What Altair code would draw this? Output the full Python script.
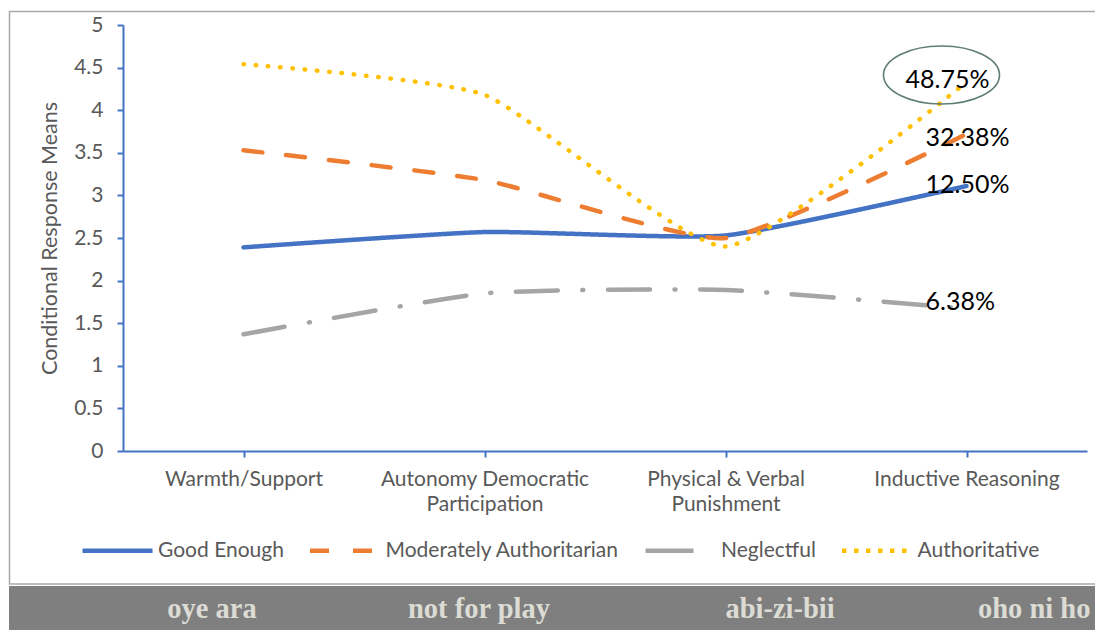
import altair as alt
import pandas as pd

# ---- data -------------------------------------------------------------
categories = [
    "Warmth/Support",
    "Autonomy Democratic Participation",
    "Physical & Verbal Punishment",
    "Inductive Reasoning",
]
series_names = ["Good Enough", "Moderately Authoritarian", "Neglectful", "Authoritative"]

good_enough = [2.39, 2.57, 2.53, 3.11]
moderately_authoritarian = [3.53, 3.18, 2.50, 3.72]
neglectful = [1.37, 1.85, 1.89, 1.67]
authoritative = [4.54, 4.18, 2.40, 4.33]

share_labels = ["12.50%", "32.38%", "6.38%", "48.75%"]
band_words = ["oye ara", "not for play", "abi-zi-bii", "oho ni ho"]

# ---- styling ----------------------------------------------------------
series_colors = ["#4472c4", "#ed7d31", "#a5a5a5", "#ffc000"]
# dash patterns of the scale (also used by the legend swatches, butt caps there)
legend_dashes = [[1, 0], [19, 24], [48, 30], [4.5, 7.5]]
# patterns drawn directly on the round-capped lines
dash_dot = [42, 24.5, 1, 24.5]
round_dot = [0.5, 11.8]
AXIS_BLUE = "#4472c4"
TEXT_GREY = "#595959"
FONT = "Lato"

W, H = 964, 426

series_values = [good_enough, moderately_authoritarian, neglectful, authoritative]
rows = []
for name, vals in zip(series_names, series_values):
    for cat, v in zip(categories, vals):
        rows.append({"series": name, "category": cat, "value": v})
df = pd.DataFrame(rows)

last = pd.DataFrame({
    "series": series_names,
    "category": [categories[-1]] * len(series_names),
    "value": [vals[-1] for vals in series_values],
    "label": share_labels,
})

x_label_expr = (
    "datum.label == 'Autonomy Democratic Participation' ? ['Autonomy Democratic', 'Participation'] : "
    "datum.label == 'Physical & Verbal Punishment' ? ['Physical & Verbal', 'Punishment'] : datum.label"
)

x_enc = alt.X(
    "category:N",
    sort=categories,
    scale=alt.Scale(type="point", padding=0.5),
    axis=alt.Axis(
        title=None, labelAngle=0, labelExpr=x_label_expr, labelLineHeight=25,
        labelPadding=11, labelOverlap=False, labelLimit=0,
    ),
)
y_enc = alt.Y(
    "value:Q",
    scale=alt.Scale(domain=[0, 5], nice=False, zero=True),
    axis=alt.Axis(
        title="Conditional Response Means",
        values=[0, 0.5, 1, 1.5, 2, 2.5, 3, 3.5, 4, 4.5, 5],
        format="~g",
        labelPadding=14, titlePadding=12, grid=False,
    ),
)

legend = alt.Legend(
    title=None, orient="none", legendX=-43, legendY=488,
    direction="horizontal", columns=4, symbolType="stroke",
    symbolSize=4900, symbolStrokeWidth=4.5, labelFont=FONT, labelFontSize=21,
    labelColor=TEXT_GREY, labelOffset=3, columnPadding=16.5, labelLimit=0,
)

color_enc = alt.Color(
    "series:N", scale=alt.Scale(domain=series_names, range=series_colors), legend=legend
)
dash_enc = alt.StrokeDash(
    "series:N", scale=alt.Scale(domain=series_names, range=legend_dashes), legend=legend
)

line_style = dict(strokeWidth=4.5, strokeCap="round", strokeJoin="round",
                  interpolate="cardinal", tension=0.5)

solid_and_dashed = alt.Chart(df).transform_filter(
    (alt.datum.series == "Good Enough") | (alt.datum.series == "Moderately Authoritarian")
).mark_line(**line_style).encode(x=x_enc, y=y_enc, color=color_enc, strokeDash=dash_enc)

dash_dotted = alt.Chart(df).transform_filter(
    alt.datum.series == "Neglectful"
).mark_line(strokeDash=dash_dot, **line_style).encode(x=x_enc, y=y_enc, color=color_enc)

dotted = alt.Chart(df).transform_filter(
    alt.datum.series == "Authoritative"
).mark_line(strokeDash=round_dot, **line_style).encode(x=x_enc, y=y_enc, color=color_enc)

# share labels placed beside the line ends
label_offsets = {
    "Good Enough": (-41, -1),
    "Moderately Authoritarian": (-41, 4),
    "Neglectful": (-41, -7),
    "Authoritative": (-61, -2),
}
label_layers = []
for name in series_names:
    dx, dy = label_offsets[name]
    label_layers.append(
        alt.Chart(last).transform_filter(alt.datum.series == name).mark_text(
            align="left", baseline="middle", dx=dx, dy=dy, font=FONT, fontSize=25, color="#000000"
        ).encode(x=alt.X("category:N", sort=categories), y="value:Q", text="label:N")
    )

# ellipse highlighting the largest share
k = 0.5523
cx, cy, rx, ry = -0.431, -0.121, 1.0, 0.5
ellipse_path = (
    f"M {cx+rx},{cy} "
    f"C {cx+rx},{cy+ry*k} {cx+rx*k},{cy+ry} {cx},{cy+ry} "
    f"C {cx-rx*k},{cy+ry} {cx-rx},{cy+ry*k} {cx-rx},{cy} "
    f"C {cx-rx},{cy-ry*k} {cx-rx*k},{cy-ry} {cx},{cy-ry} "
    f"C {cx+rx*k},{cy-ry} {cx+rx},{cy-ry*k} {cx+rx},{cy} Z"
)
highlight = alt.Chart(last).transform_filter(alt.datum.series == "Authoritative").mark_point(
    shape=ellipse_path, size=13456, filled=False, stroke="#5f7d78", strokeWidth=1.6, opacity=1
).encode(x=alt.X("category:N", sort=categories), y="value:Q")

# outer frame and the caption band underneath
one = pd.DataFrame({"k": [0]})
frame = alt.Chart(one).mark_rect(fillOpacity=0, stroke="#a8a8a8", strokeWidth=1.5).encode(
    x=alt.value(-113.5), x2=alt.value(990), y=alt.value(-13.5), y2=alt.value(559)
)
band = alt.Chart(one).mark_rect(color="#7f7f7f").encode(
    x=alt.value(-114), x2=alt.value(990), y=alt.value(561), y2=alt.value(615)
)
band_pos = [(89, "center"), (356, "center"), (657, "center"), (855, "left")]
band_layers = []
for word, (px, al) in zip(band_words, band_pos):
    band_layers.append(
        alt.Chart(one).mark_text(
            font="Liberation Serif", fontWeight="bold", fontSize=28.5, color="#dcdcd4",
            align=al, baseline="middle",
        ).encode(x=alt.value(px), y=alt.value(584), text=alt.value(word))
    )

chart = alt.layer(
    frame, band, *band_layers, solid_and_dashed, dash_dotted, dotted, *label_layers, highlight
).properties(
    width=W, height=H,
    autosize=alt.AutoSizeParams(type="none"),
    padding={"left": 123, "top": 25, "right": 8, "bottom": 179},
    background="white",
).configure_view(stroke=None).configure_axis(
    domainColor=AXIS_BLUE, domainWidth=2, tickColor=AXIS_BLUE, tickWidth=2, tickSize=6,
    labelFont=FONT, labelFontSize=21, labelColor=TEXT_GREY,
    titleFont=FONT, titleFontSize=21.5, titleColor=TEXT_GREY, titleFontWeight="normal",
)

chart.save("out.html", embed_options={"renderer": "svg", "actions": False})
